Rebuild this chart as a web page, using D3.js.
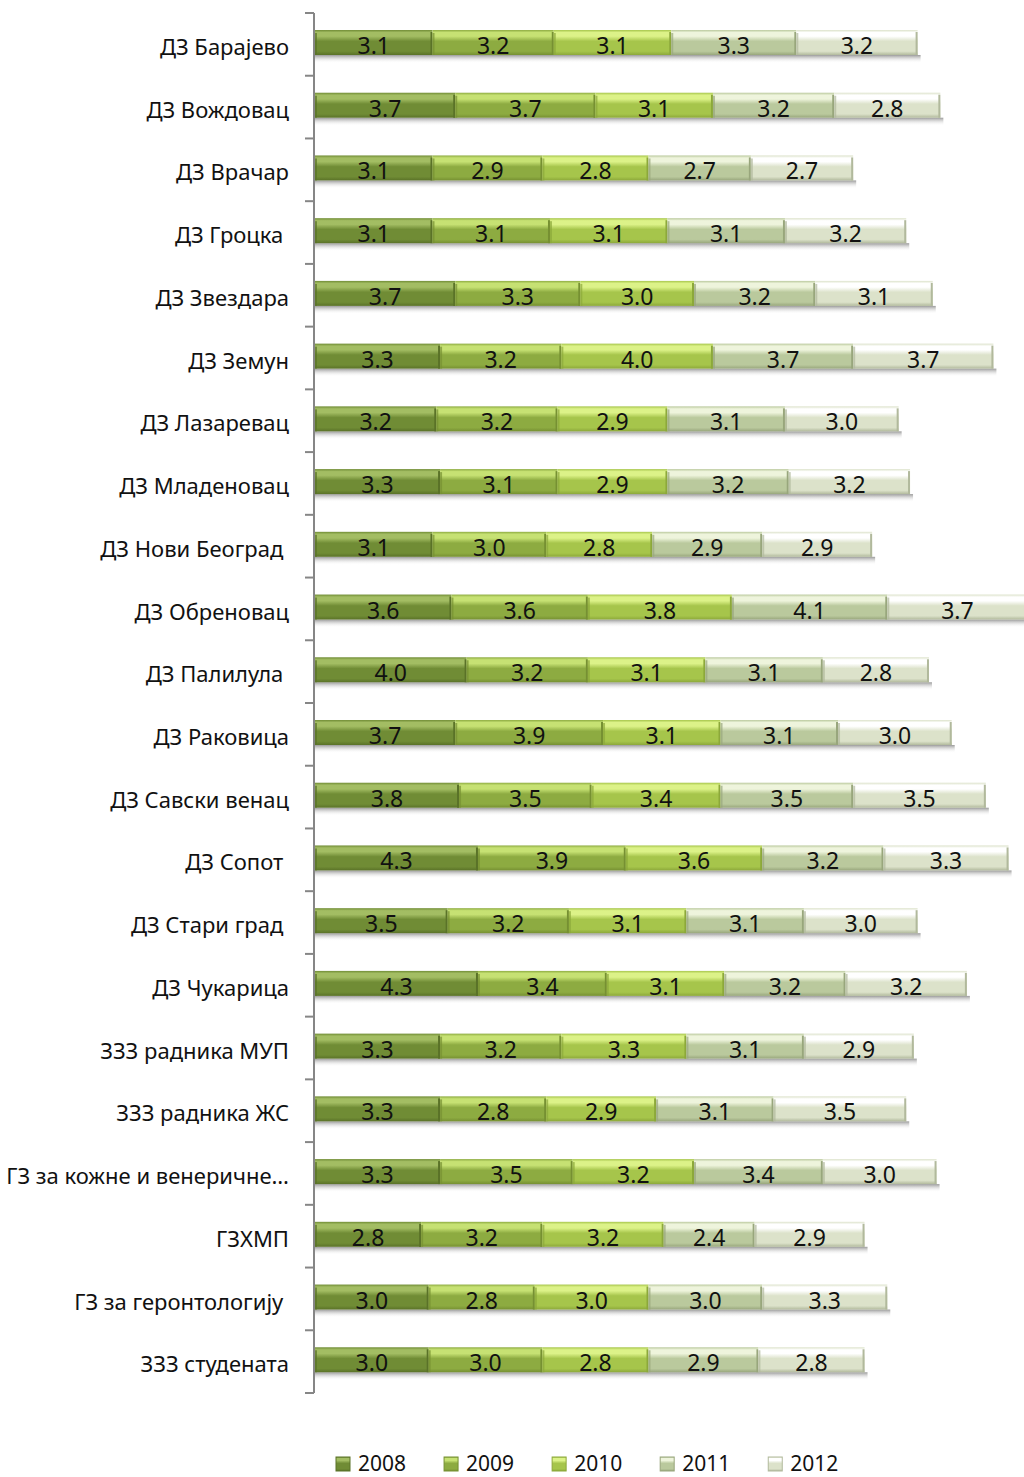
<!DOCTYPE html>
<html>
<head>
<meta charset="utf-8">
<script src="https://cdn.jsdelivr.net/npm/d3@7"></script>
<style>
  body { margin: 0; background: #fff; }
  svg { display: block; font-family: "Noto Sans", "Open Sans", sans-serif; }
  .cat { white-space: pre; }
</style>
</head>
<body>
<svg id="chart" width="1024" height="1477"></svg>
<script>
// Data
var categories = [
  "ДЗ Барајево", "ДЗ Вождовац", "ДЗ Врачар", "ДЗ Гроцка ", "ДЗ Звездара",
  "ДЗ Земун", "ДЗ Лазаревац", "ДЗ Младеновац", "ДЗ Нови Београд ", "ДЗ Обреновац",
  "ДЗ Палилула ", "ДЗ Раковица", "ДЗ Савски венац", "ДЗ Сопот ", "ДЗ Стари град ",
  "ДЗ Чукарица", "ЗЗЗ радника МУП", "ЗЗЗ радника ЖС", "ГЗ за кожне и венеричне…",
  "ГЗХМП", "ГЗ за геронтологију ", "ЗЗЗ студената"
];
var years = ["2008", "2009", "2010", "2011", "2012"];

var v2008 = [3.1, 3.7, 3.1, 3.1, 3.7, 3.3, 3.2, 3.3, 3.1, 3.6, 4.0, 3.7, 3.8, 4.3, 3.5, 4.3, 3.3, 3.3, 3.3, 2.8, 3.0, 3.0];
var v2009 = [3.2, 3.7, 2.9, 3.1, 3.3, 3.2, 3.2, 3.1, 3.0, 3.6, 3.2, 3.9, 3.5, 3.9, 3.2, 3.4, 3.2, 2.8, 3.5, 3.2, 2.8, 3.0];
var v2010 = [3.1, 3.1, 2.8, 3.1, 3.0, 4.0, 2.9, 2.9, 2.8, 3.8, 3.1, 3.1, 3.4, 3.6, 3.1, 3.1, 3.3, 2.9, 3.2, 3.2, 3.0, 2.8];
var v2011 = [3.3, 3.2, 2.7, 3.1, 3.2, 3.7, 3.1, 3.2, 2.9, 4.1, 3.1, 3.1, 3.5, 3.2, 3.1, 3.2, 3.1, 3.1, 3.4, 2.4, 3.0, 2.9];
var v2012 = [3.2, 2.8, 2.7, 3.2, 3.1, 3.7, 3.0, 3.2, 2.9, 3.7, 2.8, 3.0, 3.5, 3.3, 3.0, 3.2, 2.9, 3.5, 3.0, 2.9, 3.3, 2.8];
var seriesValues = [v2008, v2009, v2010, v2011, v2012];

// colours per year: top highlight, middle, bottom
var colTop = ["#a3bd63", "#c6e173", "#dcf288", "#eef4dc", "#ffffff"];
var colMid = ["#708c35", "#8dab41", "#a6c54b", "#bac99d", "#dce2ca"];
var colBot = ["#5a7228", "#769032", "#8ca83a", "#98a67c", "#b1b99c"];

const svg = d3.select('#chart');

var axisX = 314, axisTop = 13, axisBottom = 1393;

const x = d3.scaleLinear().domain([0, 20]).range([axisX + 1, axisX + 1 + 758]);
const y = d3.scaleBand().domain(categories).range([axisTop, axisBottom]);

// gradients
var defs = svg.append('defs');
years.forEach(function(yr, i) {
  var g = defs.append('linearGradient').attr('id', 'g' + yr)
    .attr('x1', 0).attr('y1', 0).attr('x2', 0).attr('y2', 1);
  g.append('stop').attr('offset', '0%').attr('stop-color', colMid[i]);
  g.append('stop').attr('offset', '10%').attr('stop-color', colTop[i]);
  g.append('stop').attr('offset', '25%').attr('stop-color', colTop[i]);
  g.append('stop').attr('offset', '45%').attr('stop-color', colMid[i]);
  g.append('stop').attr('offset', '85%').attr('stop-color', colMid[i]);
  g.append('stop').attr('offset', '100%').attr('stop-color', colBot[i]);
});
var sh = defs.append('linearGradient').attr('id', 'shadow')
  .attr('x1', 0).attr('y1', 0).attr('x2', 0).attr('y2', 1);
sh.append('stop').attr('offset', '0%').attr('stop-color', '#9a9a9a');
sh.append('stop').attr('offset', '100%').attr('stop-color', '#ffffff').attr('stop-opacity', 0);

// stacked data
var rows = categories.map(function(c, ci) {
  var acc = 0;
  return years.map(function(yr, si) {
    var v = seriesValues[si][ci];
    var seg = {cat: c, year: yr, si: si, x0: acc, x1: acc + v, value: v};
    acc += v;
    return seg;
  });
});

var barOff = 17, barH = 25;

// shadows
svg.append('g').selectAll('rect')
  .data(rows)
  .enter()
  .append('rect')
  .attr('x', d => x(0))
  .attr('y', d => y(d[0].cat) + barOff + barH)
  .attr('width', d => x(d[4].x1) - x(0) + 3)
  .attr('height', 8)
  .style('fill', 'url(#shadow)');

// segments
var segs = svg.append('g').selectAll('g')
  .data(rows)
  .enter()
  .append('g')
  .selectAll('g')
  .data(d => d)
  .enter()
  .append('g');

segs.append('rect')
  .attr('x', d => x(d.x0))
  .attr('y', d => y(d.cat) + barOff)
  .attr('width', d => x(d.x1) - x(d.x0))
  .attr('height', barH)
  .style('fill', d => 'url(#g' + d.year + ')');

// bevel edges
segs.append('rect')
  .attr('x', d => x(d.x0))
  .attr('y', d => y(d.cat) + barOff + 3)
  .attr('width', 2)
  .attr('height', barH - 3)
  .style('fill', d => colBot[d.si])
  .style('opacity', 0.7);
segs.append('rect')
  .attr('x', d => x(d.x1) - 2)
  .attr('y', d => y(d.cat) + barOff + 2)
  .attr('width', 2)
  .attr('height', barH - 2)
  .style('fill', d => colBot[d.si]);

segs.append('text')
  .attr('x', d => (x(d.x0) + x(d.x1)) / 2)
  .attr('y', d => y(d.cat) + barOff + barH - 1)
  .attr('text-anchor', 'middle')
  .style('font-size', '23px')
  .style('fill', '#111')
  .text(d => d.value.toFixed(1));

// axis
var axis = svg.append('g');
axis.append('line')
  .attr('x1', axisX).attr('x2', axisX)
  .attr('y1', axisTop).attr('y2', axisBottom)
  .style('stroke', '#868686').style('stroke-width', 2);
var ticks = categories.map(c => y(c)).concat([axisBottom]);
axis.selectAll('.tick')
  .data(ticks)
  .enter()
  .append('line')
  .attr('x1', axisX - 9).attr('x2', axisX)
  .attr('y1', d => d).attr('y2', d => d)
  .style('stroke', '#868686').style('stroke-width', 2);

axis.selectAll('.cat')
  .data(categories)
  .enter()
  .append('text')
  .classed('cat', true)
  .attr('x', 289)
  .attr('y', d => y(d) + 42)
  .attr('text-anchor', 'end')
  .style('font-size', '22px')
  .style('fill', '#111')
  .text(d => d);

// legend
var leg = svg.append('g');
var lx = 336;
years.forEach(function(yr, i) {
  leg.append('rect')
    .attr('x', lx).attr('y', 1457)
    .attr('width', 14).attr('height', 14)
    .style('fill', 'url(#g' + yr + ')')
    .style('stroke', colBot[i]).style('stroke-width', 1);
  var t = leg.append('text')
    .attr('x', lx + 22).attr('y', 1471)
    .style('font-size', '21px')
    .style('fill', '#111')
    .text(yr);
  lx += 22 + t.node().getComputedTextLength() + 38;
});
</script>
</body>
</html>
